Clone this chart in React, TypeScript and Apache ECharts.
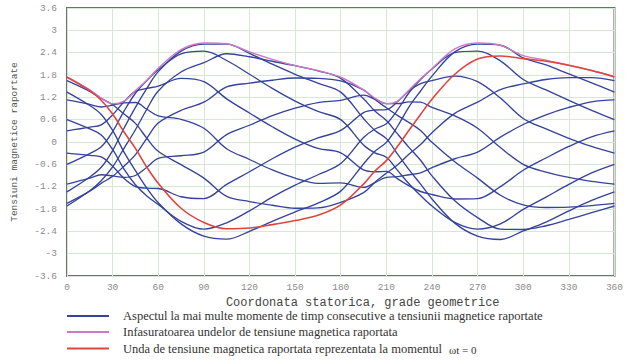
import React, { useEffect, useRef } from "react";
import * as echarts from "echarts";

// x positions (geometric degrees) at which the curves were read
const xDeg = [0, 15, 22.5, 30, 37.5, 45, 52.5, 60, 75, 90, 105, 120, 135, 150, 165, 180, 195, 202.5, 210, 217.5, 225, 232.5, 240, 255, 270, 285, 300, 315, 330, 345, 360];

// red wave at wt = 0
const redWave = [1.74, 1.38, 1.12, 0.75, 0.27, -0.17, -0.68, -1.11, -1.78, -2.16, -2.33, -2.31, -2.22, -2.11, -1.97, -1.69, -1.13, -0.78, -0.5, -0.11, 0.32, 0.74, 1.15, 1.82, 2.23, 2.31, 2.24, 2.17, 2.06, 1.92, 1.75];

// upper envelope (pink)
const envelope = [1.75, 1.4, 1.18, 1.03, 1.1, 1.38, 1.66, 1.98, 2.48, 2.66, 2.64, 2.42, 2.22, 2.05, 1.92, 1.74, 1.4, 1.18, 1.03, 1.1, 1.4, 1.7, 1.97, 2.5, 2.66, 2.6, 2.32, 2.2, 2.06, 1.92, 1.75];

// blue waves at consecutive moments
const blue1 = [1.65, 1.36, 1.17, 1.0, 0.75, 0.5, 0.1, -0.25, -0.61, -0.97, -1.46, -1.6, -1.7, -1.78, -1.77, -1.62, -1.36, -1.08, -0.84, -0.61, -0.32, -0.07, 0.25, 0.77, 1.07, 1.41, 1.56, 1.68, 1.73, 1.73, 1.65];
const blue2 = [1.13, 1.01, 0.94, 0.99, 1.05, 1.06, 0.88, 0.7, 0.61, 0.37, -0.18, -0.47, -0.75, -0.97, -1.11, -1.1, -1.22, -1.09, -0.95, -0.93, -0.88, -0.83, -0.69, -0.45, -0.27, 0.13, 0.47, 0.73, 0.93, 1.08, 1.13];
const blue3 = [0.3, 0.4, 0.46, 0.73, 1.08, 1.36, 1.44, 1.5, 1.71, 1.62, 1.16, 0.78, 0.41, 0.08, -0.17, -0.29, -0.75, -0.8, -0.79, -0.99, -1.18, -1.33, -1.41, -1.53, -1.52, -1.2, -0.76, -0.43, -0.12, 0.14, 0.3];
const blue4 = [-0.6, -0.31, -0.13, 0.28, 0.83, 1.31, 1.65, 1.94, 2.37, 2.44, 2.19, 1.82, 1.44, 1.1, 0.82, 0.6, -0.08, -0.29, -0.41, -0.77, -1.13, -1.44, -1.72, -2.16, -2.34, -2.2, -1.81, -1.48, -1.14, -0.83, -0.6];
const blue5 = [-1.34, -0.94, -0.68, -0.23, 0.37, 0.93, 1.44, 1.89, 2.44, 2.63, 2.63, 2.38, 2.09, 1.82, 1.58, 1.34, 0.63, 0.31, 0.09, -0.33, -0.75, -1.13, -1.53, -2.18, -2.53, -2.62, -2.39, -2.15, -1.85, -1.57, -1.34];
const blue6 = [-1.72, -1.31, -1.04, -0.67, -0.17, 0.33, 0.88, 1.37, 1.88, 2.13, 2.37, 2.29, 2.17, 2.05, 1.91, 1.71, 1.16, 0.83, 0.58, 0.21, -0.15, -0.49, -0.91, -1.58, -2.03, -2.34, -2.35, -2.25, -2.08, -1.9, -1.72];
const blue7 = [-1.65, -1.32, -1.11, -0.92, -0.65, -0.34, 0.1, 0.51, 0.85, 1.07, 1.48, 1.58, 1.66, 1.72, 1.71, 1.64, 1.4, 1.14, 0.92, 0.71, 0.52, 0.31, -0.01, -0.53, -0.97, -1.43, -1.69, -1.76, -1.75, -1.71, -1.65];
const blue8 = [-1.13, -0.97, -0.88, -0.91, -0.95, -0.9, -0.68, -0.44, -0.37, -0.27, 0.2, 0.45, 0.71, 0.91, 1.06, 1.12, 1.26, 1.15, 1.03, 1.03, 1.08, 1.07, 0.93, 0.7, 0.37, -0.15, -0.6, -0.81, -0.95, -1.06, -1.13];
const blue9 = [-0.3, -0.36, -0.4, -0.65, -0.98, -1.2, -1.24, -1.25, -1.47, -1.52, -1.14, -0.8, -0.45, -0.14, 0.11, 0.31, 0.79, 0.86, 0.87, 1.09, 1.38, 1.57, 1.65, 1.77, 1.62, 1.18, 0.63, 0.35, 0.1, -0.12, -0.3];
const blue10 = [0.6, 0.35, 0.19, -0.2, -0.73, -1.15, -1.45, -1.68, -2.13, -2.34, -2.17, -1.85, -1.48, -1.16, -0.88, -0.58, 0.12, 0.35, 0.49, 0.87, 1.33, 1.68, 1.96, 2.4, 2.44, 2.18, 1.68, 1.4, 1.12, 0.85, 0.6];
const blue11 = [1.34, 0.98, 0.74, 0.31, -0.27, -0.77, -1.24, -1.63, -2.2, -2.53, -2.61, -2.4, -2.13, -1.88, -1.64, -1.32, -0.59, -0.25, -0.01, 0.43, 0.95, 1.37, 1.77, 2.42, 2.63, 2.6, 2.26, 2.07, 1.83, 1.59, 1.34];

const blueWaves = [blue1, blue2, blue3, blue4, blue5, blue6, blue7, blue8, blue9, blue10, blue11];

const legendLabels = [
  "Aspectul la mai multe momente de timp consecutive a tensiunii magnetice raportate",
  "Infasuratoarea undelor de tensiune magnetica raportata",
  "Unda de tensiune magnetica raportata reprezentata la momentul",
];
const legendSuffix = "ωt = 0";
const xTitle = "Coordonata statorica, grade geometrice";
const yTitle = "Tensiuni magnetice raportate";

const BLUE = "#36439a";
const PINK = "#cc78c8";
const RED = "#e0443c";
const MONO = "'Liberation Mono', 'DejaVu Sans Mono', monospace";
const SERIF = "'Liberation Serif', 'Times New Roman', serif";

const zip = (ys: number[]) => xDeg.map((x, i) => [x, ys[i]]);

export default function App() {
  const ref = useRef<HTMLDivElement>(null);
  useEffect(() => {
    document.body.style.margin = "0";
    if (!ref.current) return;
    const chart = echarts.init(ref.current, undefined, { renderer: "svg" });
    const series: any[] = blueWaves.map((w) => ({
      type: "line",
      name: legendLabels[0],
      data: zip(w),
      smooth: 0.35,
      showSymbol: false,
      lineStyle: { color: BLUE, width: 1.35 },
      z: 2,
    }));
    series.push({
      type: "line",
      name: legendLabels[1],
      data: zip(envelope),
      smooth: 0.35,
      showSymbol: false,
      lineStyle: { color: PINK, width: 1.4 },
      z: 3,
    });
    series.push({
      type: "line",
      name: legendLabels[2],
      data: zip(redWave),
      smooth: 0.35,
      showSymbol: false,
      lineStyle: { color: RED, width: 1.6 },
      z: 4,
    });
    const legendY = [316, 332, 348.5];
    const legendColors = [BLUE, PINK, RED];
    const graphic: any[] = [];
    legendY.forEach((y, i) => {
      graphic.push({
        type: "line",
        shape: { x1: 67, y1: y, x2: 109, y2: y },
        style: { stroke: legendColors[i], lineWidth: 2 },
      });
      graphic.push({
        type: "text",
        x: 123,
        y: y,
        style: {
          text: legendLabels[i],
          font: `12.5px ${SERIF}`,
          fill: "#333",
          verticalAlign: "middle",
          textVerticalAlign: "middle",
        },
      });
    });
    graphic.push({
      type: "text",
      x: 449,
      y: legendY[2] + 1,
      style: {
        text: legendSuffix,
        font: `11px ${SERIF}`,
        fill: "#333",
        verticalAlign: "middle",
        textVerticalAlign: "middle",
      },
    });
    chart.setOption({
      animation: false,
      backgroundColor: "#ffffff",
      grid: {
        left: 67,
        right: 7,
        top: 8,
        bottom: 87,
        show: true,
        borderColor: "#707070",
        borderWidth: 2,
        containLabel: false,
      },
      xAxis: {
        type: "value",
        min: 0,
        max: 360,
        interval: 30,
        axisLine: { show: false },
        axisTick: { show: false },
        splitLine: { show: true, lineStyle: { color: "#d4e8d4", width: 1 } },
        axisLabel: { color: "#8c8c8c", fontFamily: MONO, fontSize: 9.5, margin: 6 },
        name: xTitle,
        nameLocation: "middle",
        nameGap: 16,
        nameTextStyle: { color: "#444", fontFamily: MONO, fontSize: 12, padding: [0, 0, 0, 44] },
      },
      yAxis: {
        type: "value",
        min: -3.6,
        max: 3.6,
        interval: 0.6,
        axisLine: { show: false },
        axisTick: { show: false },
        splitLine: { show: true, lineStyle: { color: "#d4e8d4", width: 1 } },
        axisLabel: { color: "#8c8c8c", fontFamily: MONO, fontSize: 9.5, margin: 10 },
        name: yTitle,
        nameLocation: "middle",
        nameGap: 48,
        nameRotate: 90,
        nameTextStyle: { color: "#555", fontFamily: MONO, fontSize: 9.5 },
      },
      graphic,
      series,
    });
    return () => chart.dispose();
  }, []);
  return <div ref={ref} style={{ width: 626, height: 363 }} />;
}
